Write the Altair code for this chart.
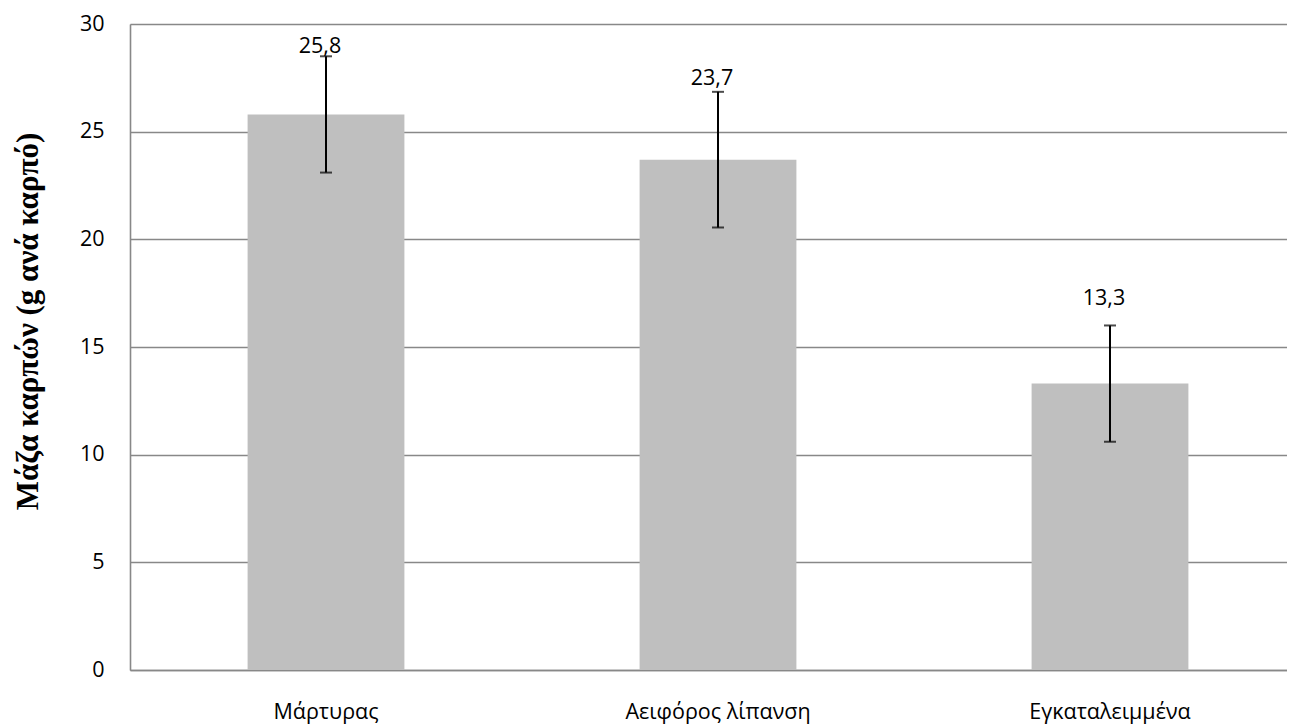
import altair as alt
import pandas as pd

categories = ["Μάρτυρας", "Αειφόρος λίπανση", "Εγκαταλειμμένα"]
means = [25.8, 23.7, 13.3]
errors = [2.7, 3.15, 2.7]
label_text = ["25,8", "23,7", "13,3"]
label_y = [28.65, 27.15, 16.95]
y_ticks = [0, 5, 10, 15, 20, 25, 30]

df = pd.DataFrame({
    "cat": categories,
    "mean": means,
    "lo": [m - e for m, e in zip(means, errors)],
    "hi": [m + e for m, e in zip(means, errors)],
    "label": label_text,
    "ly": label_y,
})

GRID = "#888888"

xenc = alt.X(
    "cat:N",
    sort=categories,
    scale=alt.Scale(range=[0, 1176], paddingInner=0.6, paddingOuter=0.3),
    axis=alt.Axis(
        title=None, labelAngle=0, tickSize=0, labelPadding=31, labelLimit=0,
        labelFont="Open Sans", labelFontSize=21.5, labelColor="black",
        domainColor=GRID, domainWidth=1.6, grid=False,
    ),
)
yscale = alt.Scale(domain=[0, 30], nice=False)

bars = alt.Chart(df).mark_bar(color="#BFBFBF").encode(
    x=xenc,
    y=alt.Y(
        "mean:Q",
        scale=yscale,
        axis=alt.Axis(
            values=y_ticks, title="Μάζα καρπών (g ανά καρπό)",
            tickSize=0, labelPadding=26,
            labelFont="Open Sans", labelFontSize=21.5, labelColor="black",
            domainColor=GRID, domainWidth=1.6,
            gridColor=GRID, gridWidth=1.6,
            titleFont="Liberation Serif", titleFontWeight="bold", titleFontSize=31,
            titleColor="black", titleX=-93, titleY=297, titleAngle=-90,
            titleAlign="center", titleBaseline="alphabetic",
        ),
    ),
)

rules = alt.Chart(df).mark_rule(color="black", strokeWidth=2).encode(
    x=alt.X("cat:N", sort=categories),
    y=alt.Y("lo:Q", scale=yscale),
    y2="hi:Q",
)
caps_hi = alt.Chart(df).mark_tick(color="black", size=12, thickness=2).encode(
    x=alt.X("cat:N", sort=categories),
    y=alt.Y("hi:Q", scale=yscale),
)
caps_lo = alt.Chart(df).mark_tick(color="black", size=12, thickness=2).encode(
    x=alt.X("cat:N", sort=categories),
    y=alt.Y("lo:Q", scale=yscale),
)
labels = alt.Chart(df).mark_text(
    font="Open Sans", fontSize=21.5, color="black", baseline="alphabetic", dx=-6
).encode(
    x=alt.X("cat:N", sort=categories),
    y=alt.Y("ly:Q", scale=yscale),
    text="label:N",
)

chart = alt.layer(bars, rules, caps_hi, caps_lo, labels).properties(
    width=1157, height=646,
    autosize=alt.AutoSizeParams(type="none"),
    padding={"left": 122, "top": 16, "right": 0, "bottom": 57},
).configure_view(stroke=None).configure(background="white")

chart.save("out.html", embed_options={"renderer": "svg", "actions": False})
